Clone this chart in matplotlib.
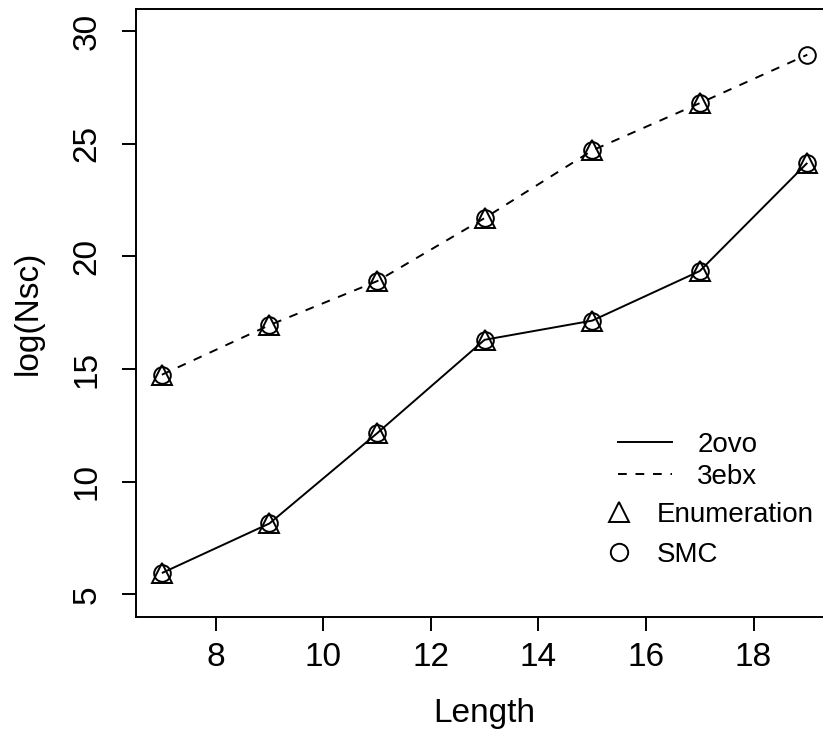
import matplotlib
matplotlib.use("Agg")
from matplotlib import pyplot as plt
from matplotlib.lines import Line2D

plt.rcParams['font.family'] = ['Liberation Sans', 'DejaVu Sans']

# data
length = [7, 9, 11, 13, 15, 17, 19]
nsc_2ovo = [5.95, 8.15, 12.15, 16.3, 17.15, 19.35, 24.15]
nsc_3ebx = [14.75, 16.95, 18.9, 21.7, 24.7, 26.8, 28.95]
# enumeration only went up to length 17 for 3ebx
enum_len_3ebx = [7, 9, 11, 13, 15, 17]
enum_3ebx = nsc_3ebx[:6]

xticks = [8, 10, 12, 14, 16, 18]
yticks = [5, 10, 15, 20, 25, 30]

fig = plt.figure(figsize=(8.23, 7.34), dpi=100)
ax = fig.add_axes([0.1653, 0.1594, 0.847, 0.829])
ax.patch.set_visible(False)

lw = 1.4
ax.plot(length, nsc_2ovo, color='black', lw=lw, solid_capstyle='butt')
ax.plot(length, nsc_3ebx, color='black', lw=lw, linestyle=(0, (4.5, 4.5)))

# open markers
ax.plot(length, nsc_2ovo, 'o', ms=12, mfc='none', mec='black', mew=lw)
ax.plot(length, nsc_3ebx, 'o', ms=12, mfc='none', mec='black', mew=lw)
ax.plot(length, nsc_2ovo, '^', ms=15, mfc='none', mec='black', mew=lw)
ax.plot(enum_len_3ebx, enum_3ebx, '^', ms=15, mfc='none', mec='black', mew=lw)

ax.set_xlim(6.52, 19.48)
ax.set_ylim(4, 31)
ax.set_xticks(xticks)
ax.set_yticks(yticks)
ax.tick_params(direction='out', length=10, width=lw, labelsize=24, pad=8)
ax.tick_params(axis='y', pad=14)
for lab in ax.get_yticklabels():
    lab.set_rotation(90)
    lab.set_va('center')
for sp in ax.spines.values():
    sp.set_linewidth(lw)
ax.spines['right'].set_visible(False)  # lies outside the picture in the original

ax.set_xlabel('Length', fontsize=24, labelpad=18)
ax.set_ylabel('log(Nsc)', fontsize=24, labelpad=20)

h1 = [Line2D([], [], color='black', lw=lw),
      Line2D([], [], color='black', lw=lw, linestyle=(0, (4.5, 4.5)))]
leg1 = ax.legend(h1, ['2ovo', '3ebx'], loc='upper left', bbox_to_anchor=(0.6915, 0.304),
                 frameon=False, fontsize=20, handlelength=1.95, handletextpad=0.9,
                 labelspacing=0.2, borderpad=0, borderaxespad=0)
ax.add_artist(leg1)
h2 = [Line2D([], [], marker='^', ms=15, mfc='none', mec='black', mew=lw, ls='none'),
      Line2D([], [], marker='o', ms=12.5, mfc='none', mec='black', mew=lw, ls='none')]
ax.legend(h2, ['Enumeration', 'SMC'], loc='upper left', bbox_to_anchor=(0.669, 0.189),
          frameon=False, fontsize=20, handlelength=1.2, handletextpad=0.75,
          labelspacing=0.49, borderpad=0, borderaxespad=0)

fig.savefig('out.png', dpi=100)
